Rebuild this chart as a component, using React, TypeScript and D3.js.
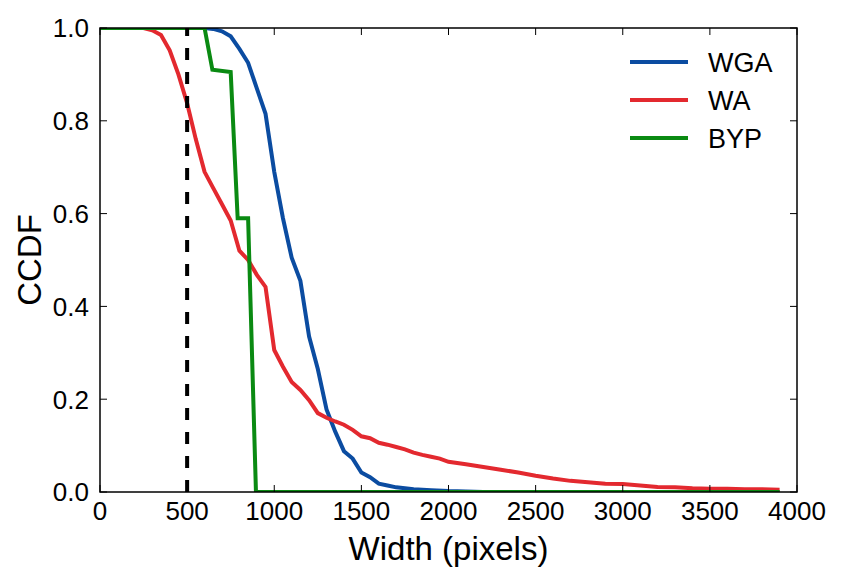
import React from 'react';
import * as d3 from 'd3';

// CCDF of widths (width in px, fraction)
const wgaPoints: [number, number][] = [
  [0, 1], [600, 1], [650, 0.998], [700, 0.993], [750, 0.982], [800, 0.955],
  [850, 0.925], [900, 0.87], [950, 0.815], [1000, 0.69], [1050, 0.59],
  [1100, 0.505], [1150, 0.455], [1200, 0.335], [1250, 0.265], [1300, 0.178],
  [1350, 0.13], [1400, 0.088], [1450, 0.072], [1500, 0.042], [1550, 0.032],
  [1600, 0.018], [1650, 0.014], [1700, 0.01], [1800, 0.006], [1900, 0.004],
  [2000, 0.002], [2200, 0], [3900, 0]
];

const waPoints: [number, number][] = [
  [0, 1], [250, 1], [300, 0.995], [350, 0.985], [400, 0.952], [450, 0.9],
  [500, 0.838], [550, 0.76], [600, 0.69], [650, 0.655], [700, 0.62],
  [750, 0.585], [800, 0.52], [850, 0.5], [900, 0.468], [950, 0.442],
  [1000, 0.306], [1050, 0.27], [1100, 0.237], [1150, 0.22], [1200, 0.198],
  [1250, 0.17], [1300, 0.16], [1350, 0.152], [1400, 0.145], [1450, 0.134],
  [1500, 0.12], [1550, 0.116], [1600, 0.106], [1650, 0.102], [1700, 0.097],
  [1750, 0.092], [1800, 0.085], [1850, 0.08], [1900, 0.076], [1950, 0.072],
  [2000, 0.065], [2100, 0.06], [2200, 0.054], [2300, 0.048], [2400, 0.042],
  [2500, 0.035], [2600, 0.029], [2700, 0.024], [2800, 0.021], [2900, 0.018],
  [3000, 0.017], [3100, 0.014], [3200, 0.011], [3300, 0.01], [3400, 0.008],
  [3500, 0.007], [3600, 0.007], [3700, 0.006], [3800, 0.006], [3900, 0.005]
];

const bypPoints: [number, number][] = [
  [0, 1], [600, 1], [645, 0.91], [750, 0.905], [790, 0.59], [850, 0.59],
  [895, 0], [3900, 0]
];

const seriesNames = ['WGA', 'WA', 'BYP'];
const seriesColors = ['#0b4ca1', '#e3292f', '#0a8a12'];
const seriesData = [wgaPoints, waPoints, bypPoints];

const xTicks = [0, 500, 1000, 1500, 2000, 2500, 3000, 3500, 4000];
const yTicks = [0, 0.2, 0.4, 0.6, 0.8, 1.0];
const thresholdWidth = 500;

const W = 842;
const H = 583;
const margin = { left: 100, right: 45, top: 28, bottom: 91 };
const FONT = 'Liberation Sans, Arial, Helvetica, sans-serif';

export default function App() {
  const x = d3.scaleLinear().domain([0, 4000]).range([margin.left, W - margin.right]);
  const y = d3.scaleLinear().domain([0, 1]).range([H - margin.bottom, margin.top]);
  const line = d3.line<[number, number]>().x(d => x(d[0])).y(d => y(d[1]));

  const x0 = x.range()[0], x1 = x.range()[1];
  const y0 = y.range()[0], y1 = y.range()[1];
  const tickLen = 7;

  return (
    <svg width={W} height={H} style={{ position: 'absolute', left: 0, top: 0, background: '#fff' }}
      fontFamily={FONT}>
      <defs>
        <clipPath id="plot-clip">
          <rect x={x0} y={y1} width={x1 - x0} height={y0 - y1} />
        </clipPath>
      </defs>

      <g clipPath="url(#plot-clip)">
        {seriesData.map((pts, i) => (
          <path key={seriesNames[i]} d={line(pts) || ''} fill="none" stroke={seriesColors[i]}
            strokeWidth={4} strokeLinejoin="miter" />
        ))}
        <line x1={x(thresholdWidth)} x2={x(thresholdWidth)} y1={y(0)} y2={y(1)}
          stroke="#000" strokeWidth={4} strokeDasharray="12,12" />
      </g>

      {/* ticks, inward on all four sides */}
      {xTicks.map(t => (
        <g key={'xt' + t}>
          <line x1={x(t)} x2={x(t)} y1={y0} y2={y0 - tickLen} stroke="#000" strokeWidth={1} />
          <line x1={x(t)} x2={x(t)} y1={y1} y2={y1 + tickLen} stroke="#000" strokeWidth={1} />
          <text x={x(t)} y={y0 + 28} textAnchor="middle" fontSize={26} fill="#000">{t}</text>
        </g>
      ))}
      {yTicks.map(t => (
        <g key={'yt' + t}>
          <line x1={x0} x2={x0 + tickLen} y1={y(t)} y2={y(t)} stroke="#000" strokeWidth={1} />
          <line x1={x1} x2={x1 - tickLen} y1={y(t)} y2={y(t)} stroke="#000" strokeWidth={1} />
          <text x={x0 - 11} y={y(t)} dy="0.36em" textAnchor="end" fontSize={26} fill="#000">
            {d3.format('.1f')(t)}
          </text>
        </g>
      ))}

      <rect x={x0} y={y1} width={x1 - x0} height={y0 - y1} fill="none" stroke="#000" strokeWidth={1.5} />

      <text x={(x0 + x1) / 2} y={H - 23} textAnchor="middle" fontSize={33} fill="#000">Width (pixels)</text>
      <text transform={`translate(41,${(y0 + y1) / 2}) rotate(-90)`} textAnchor="middle" fontSize={33}
        fill="#000">CCDF</text>

      {/* legend */}
      {seriesNames.map((name, i) => (
        <g key={'lg' + name} transform={`translate(630,${62 + i * 38})`}>
          <line x1={0} x2={58} y1={0} y2={0} stroke={seriesColors[i]} strokeWidth={4} />
          <text x={78} y={0} dy="0.36em" fontSize={27} fill="#000">{name}</text>
        </g>
      ))}
    </svg>
  );
}
